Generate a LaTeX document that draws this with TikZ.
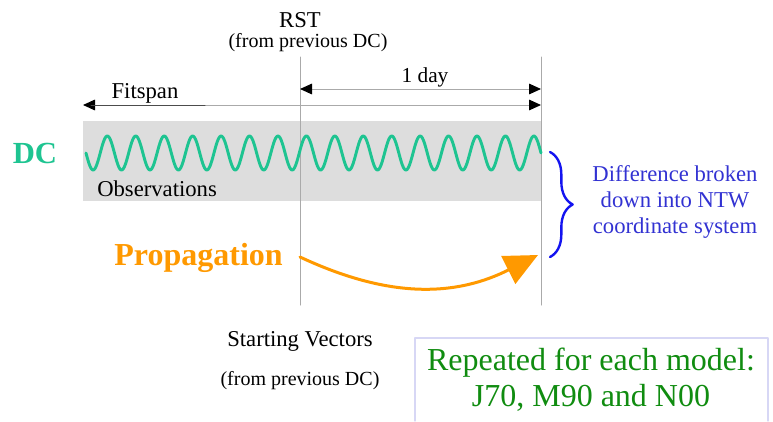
\documentclass[tikz,border=0pt]{standalone}
\usepackage{fontspec}
\setmainfont{Liberation Serif}
\usetikzlibrary{arrows.meta,decorations.pathreplacing}

\definecolor{dcteal}{RGB}{30,196,145}
\definecolor{propor}{RGB}{255,153,0}
\definecolor{ntwblue}{RGB}{50,50,210}
\definecolor{bracebl}{RGB}{20,20,240}
\definecolor{modgreen}{RGB}{16,140,16}
\definecolor{boxlav}{RGB}{215,215,245}
\definecolor{obsgray}{RGB}{221,221,221}
\definecolor{axgray}{RGB}{170,170,170}

\tikzset{
  txt/.style={inner sep=0pt, font=\fontsize{17}{20}\selectfont},
  tick/.style={draw=axgray, line width=0.75pt},
  span/.style={draw=axgray, line width=0.75pt, {Triangle[length=9pt,width=8pt,color=black]}-{Triangle[length=9pt,width=8pt,color=black]}},
}

\begin{document}
\begin{tikzpicture}[line cap=round,line join=round,x=0.75pt,y=-0.75pt]
		\useasboundingbox (0,0) rectangle (773,421);
		% fond des observations
		\fill[obsgray] (83,121) rectangle (541,201);
		% reperes
		\coordinate (rsttop) at (300,57);
		\coordinate (rstbot) at (300,305);
		\coordinate (endtop) at (541,57);
		\coordinate (endbot) at (541,305);
		\coordinate (fitL) at (83,105);
		\coordinate (fitR) at (541,105);
		\coordinate (fitM) at (205,105);
		\coordinate (dayL) at (300,89);
		\coordinate (dayR) at (541,89);
		\draw[tick] (rsttop) -- (rstbot);
		\draw[tick] (endtop) -- (endbot);
		% fleches
		\draw[span] (fitL) -- (fitR);
		\draw[line width=0.75pt, black!70] (fitL) ++(8,0) -- (fitM);
		\draw[span] (dayL) -- (dayR);
		% textes du haut
		\node[txt] (rst) at (300,20) {RST};
		\node[txt, font=\fontsize{15}{18}\selectfont] (rstsrc) at (308,43) {(from previous DC)};
		\node[txt] (fitspan) at (145,93) {Fitspan};
		\node[txt, font=\fontsize{16}{19}\selectfont] (day) at (425,77) {1 day};
		% DC
		\node[txt, text=dcteal, font=\fontsize{23}{26}\bfseries] (dc) at (35,153) {DC};
		\draw[dcteal, line width=2.2pt] plot[domain=86:541, samples=500] (\x, {153+17*sin((\x-86)/28.4375*360)});
		\node[txt, anchor=west] (obs) at (97,189) {Observations};
		% propagation
		\node[txt, text=propor, font=\fontsize{24}{27}\bfseries, anchor=east] (prop) at (283,258) {Propagation};
		\coordinate (propA) at (300,257);
		\coordinate (propB) at (538,255);
		\draw[propor, line width=2.25pt, -{Triangle[length=25pt,width=23pt]}] (propA) .. controls (375,292) and (445,302) .. (propB);
		% accolade
		\coordinate (brtop) at (550,152);
		\coordinate (brbot) at (550,257);
		\draw[bracebl, line width=1.8pt, decorate, decoration={brace, amplitude=17pt}] (brtop) -- (brbot);
		\node[txt, text=ntwblue, align=center, font=\fontsize{17}{19.8}\selectfont] (ntw) at (675,202) {Difference broken\\down into NTW\\coordinate system};
		% vecteurs de depart
		\node[txt] (start) at (300,341) {Starting Vectors};
		\node[txt, font=\fontsize{15}{18}\selectfont] (startsrc) at (300,381) {(from previous DC)};
		% cadre des modeles
		\coordinate (boxBL) at (415,421);
		\coordinate (boxTR) at (768,338);
		\draw[boxlav, line width=0.8pt] (boxBL) |- (boxTR) -- (768,421);
		\node[txt, text=modgreen, align=center, font=\fontsize{24}{27}\selectfont] (models) at (591,380) {Repeated for each model:\\J70, M90 and N00};
\end{tikzpicture}
\end{document}
